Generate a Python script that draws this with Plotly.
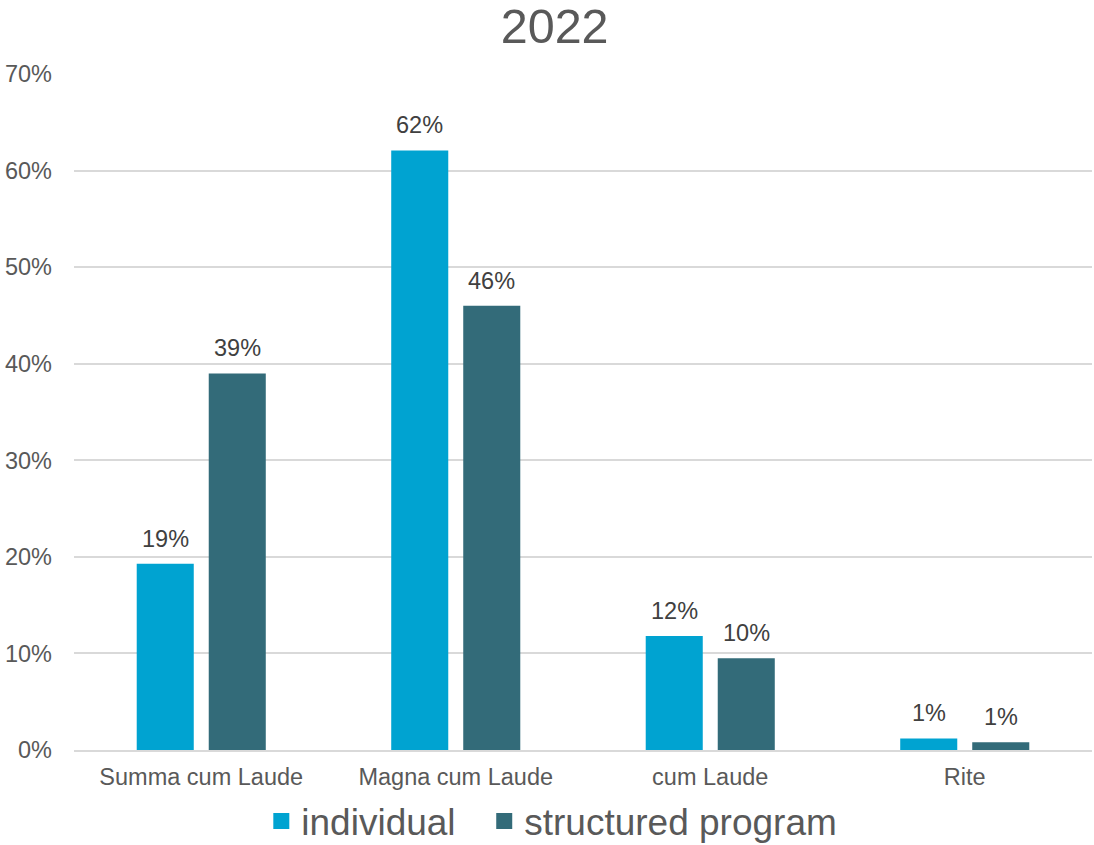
import plotly.graph_objects as go

categories = ["Summa cum Laude", "Magna cum Laude", "cum Laude", "Rite"]
individual = [0.193, 0.621, 0.118, 0.012]
structured = [0.390, 0.460, 0.095, 0.008]
series_names = ["individual", "structured program"]
colors = ["#00A3D1", "#336B79"]

font_family = "Liberation Sans, Arial, sans-serif"

fig = go.Figure()
for name, vals, col in zip(series_names, [individual, structured], colors):
    fig.add_trace(go.Bar(
        x=categories, y=vals, name=name, showlegend=False,
        marker=dict(color=col, line=dict(width=0)),
    ))
# legend entries with larger square swatches
legend_labels = [series_names[0] + "\u00a0\u00a0\u200a", series_names[1]]
for name, col in zip(legend_labels, colors):
    fig.add_trace(go.Scatter(
        x=[None], y=[None], name=name, mode="markers",
        marker=dict(symbol="square", size=16, color=col),
    ))

# data labels above bars
shifts = [-36, 36]
for vals, xs in zip([individual, structured], shifts):
    for c, v in zip(categories, vals):
        fig.add_annotation(
            x=c, y=v, xref="x", yref="y", text=f"{v:.0%}", showarrow=False,
            xshift=xs, yshift=10, yanchor="bottom",
            font=dict(size=23.5, color="#404040", family=font_family),
        )

fig.update_layout(
    width=1094, height=845,
    margin=dict(l=74, r=2, t=74, b=95),
    paper_bgcolor="white", plot_bgcolor="white",
    title=dict(text="2022", x=0.507, xanchor="center", y=0.969, yanchor="middle",
               font=dict(size=48.5, color="#595959", family=font_family)),
    barmode="group", bargap=0.434, bargroupgap=0.208,
    font=dict(family=font_family, color="#595959"),
    showlegend=True,
    legend=dict(orientation="h", x=0.184, xanchor="left",
                yref="container", y=0.028, yanchor="middle",
                font=dict(size=37, color="#595959", family=font_family),
                itemsizing="trace", tracegroupgap=0),
)
fig.update_yaxes(range=[0, 0.7001], tickvals=[0, 0.1, 0.2, 0.3, 0.4, 0.5, 0.6, 0.7],
                 tickformat=".0%",
                 showgrid=True, gridcolor="#D9D9D9", gridwidth=1.5,
                 zeroline=False, showline=False, automargin=False,
                 tickfont=dict(size=23.5, color="#595959", family=font_family),
                 ticklabelstandoff=21)
fig.update_xaxes(showline=True, linecolor="#D9D9D9", linewidth=2, automargin=False,
                 showgrid=False,
                 tickfont=dict(size=23.5, color="#595959", family=font_family),
                 ticks="", ticklabelstandoff=5)

fig.write_html("out.html", config={"displayModeBar": False},
               post_script="document.body.style.margin='0px';document.body.style.overflow='hidden';")
